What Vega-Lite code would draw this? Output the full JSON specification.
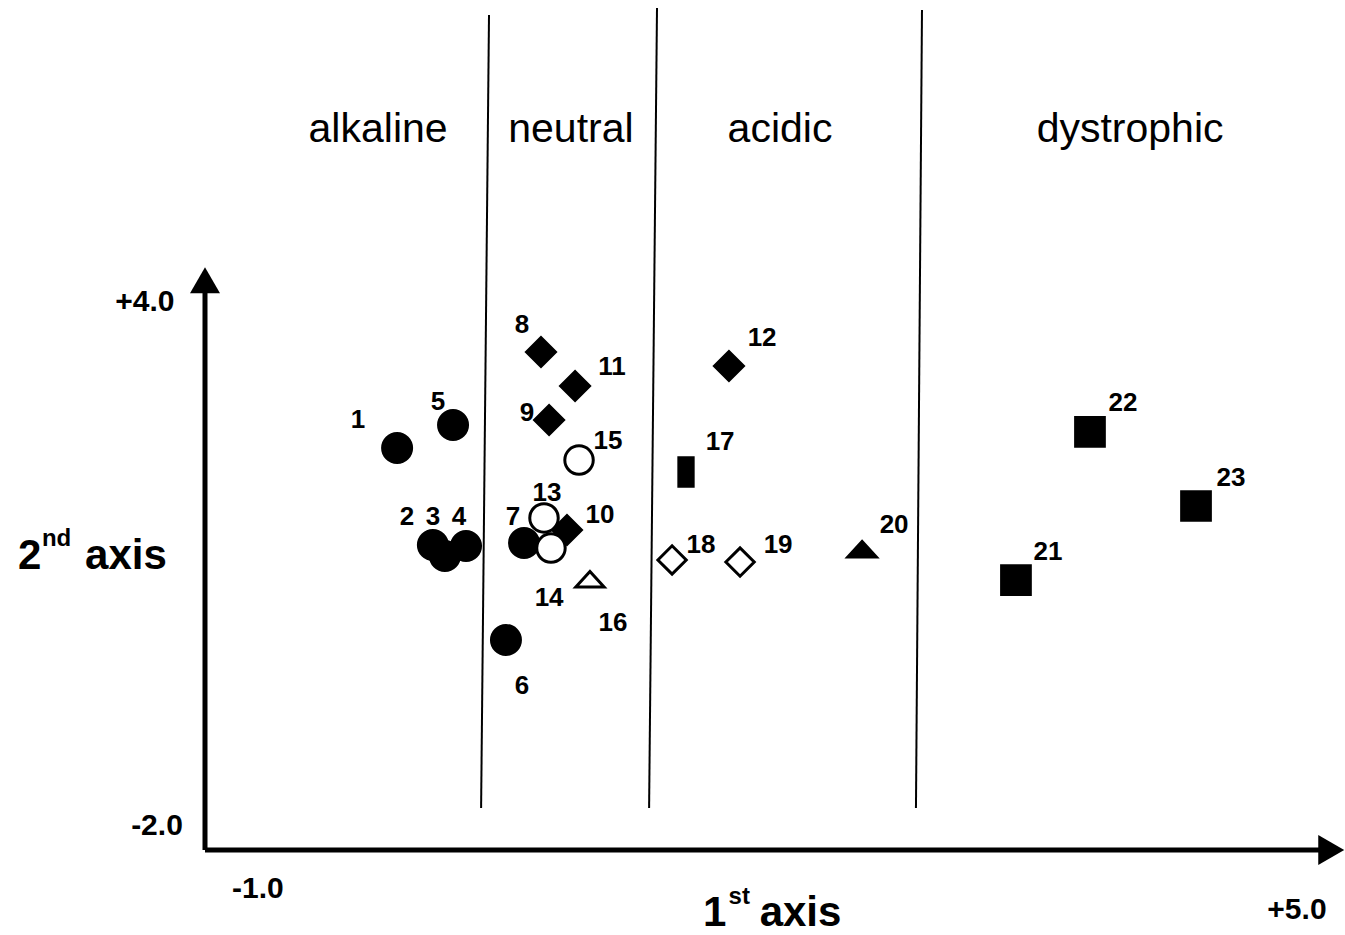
{
  "$schema": "https://vega.github.io/schema/vega-lite/v6.json",
  "width": 1345,
  "height": 935,
  "padding": 0,
  "autosize": {"type": "fit", "contains": "padding"},
  "background": "white",
  "config": {"view": {"stroke": null}},
  "datasets": {
    "pts": [
      {"id": "1", "x": 0.02, "y": 2.269, "lx": -0.188, "ly": 2.566, "kind": "fc"},
      {"id": "5", "x": 0.317, "y": 2.513, "lx": 0.237, "ly": 2.757, "kind": "fc"},
      {"id": "2", "x": 0.21, "y": 1.239, "lx": 0.073, "ly": 1.536, "kind": "fc"},
      {"id": "3", "x": 0.274, "y": 1.122, "lx": 0.211, "ly": 1.536, "kind": "fc"},
      {"id": "4", "x": 0.386, "y": 1.228, "lx": 0.349, "ly": 1.536, "kind": "fc"},
      {"id": "6", "x": 0.598, "y": 0.23, "lx": 0.683, "ly": -0.258, "kind": "fc"},
      {"id": "7", "x": 0.694, "y": 1.26, "lx": 0.635, "ly": 1.536, "kind": "fc"},
      {"id": "8", "x": 0.784, "y": 3.288, "lx": 0.683, "ly": 3.575, "kind": "fd"},
      {"id": "11", "x": 0.965, "y": 2.927, "lx": 1.161, "ly": 3.129, "kind": "fd"},
      {"id": "9", "x": 0.827, "y": 2.566, "lx": 0.71, "ly": 2.641, "kind": "fd"},
      {"id": "10", "x": 0.922, "y": 1.398, "lx": 1.097, "ly": 1.557, "kind": "sd"},
      {"id": "12", "x": 1.782, "y": 3.14, "lx": 1.958, "ly": 3.437, "kind": "fd"},
      {"id": "17", "x": 1.554, "y": 2.014, "lx": 1.735, "ly": 2.333, "kind": "fb"},
      {"id": "20", "x": 2.489, "y": 1.186, "lx": 2.659, "ly": 1.451, "kind": "ft"},
      {"id": "21", "x": 3.306, "y": 0.867, "lx": 3.476, "ly": 1.164, "kind": "fs"},
      {"id": "22", "x": 3.699, "y": 2.439, "lx": 3.874, "ly": 2.747, "kind": "fs"},
      {"id": "23", "x": 4.262, "y": 1.653, "lx": 4.448, "ly": 1.95, "kind": "fs"},
      {"id": "15", "x": 0.986, "y": 2.141, "lx": 1.14, "ly": 2.343, "kind": "oc"},
      {"id": "13", "x": 0.8, "y": 1.526, "lx": 0.816, "ly": 1.791, "kind": "oc"},
      {"id": "14", "x": 0.837, "y": 1.207, "lx": 0.827, "ly": 0.676, "kind": "oc"},
      {"id": "16", "x": 1.044, "y": 0.867, "lx": 1.166, "ly": 0.411, "kind": "ot"},
      {"id": "18", "x": 1.48, "y": 1.08, "lx": 1.634, "ly": 1.239, "kind": "od"},
      {"id": "19", "x": 1.841, "y": 1.058, "lx": 2.043, "ly": 1.239, "kind": "od"}
    ],
    "dividers": [
      {"xt": 0.508, "xb": 0.466, "yt": 6.867, "yb": -1.554},
      {"xt": 1.4, "xb": 1.358, "yt": 6.941, "yb": -1.554},
      {"xt": 2.807, "xb": 2.775, "yt": 6.92, "yb": -1.554}
    ],
    "zones": [
      {"name": "alkaline", "x": -0.081, "y": 5.646},
      {"name": "neutral", "x": 0.943, "y": 5.646},
      {"name": "acidic", "x": 2.053, "y": 5.646},
      {"name": "dystrophic", "x": 3.912, "y": 5.646}
    ],
    "axislines": [
      {"x1": -1, "y1": -2, "x2": -1, "y2": 4.03},
      {"x1": -1, "y1": -2, "x2": 4.97, "y2": -2}
    ],
    "arrows": [
      {"x": -1, "y": 4.05, "dir": "up"},
      {"x": 4.98, "y": -2, "dir": "right"}
    ],
    "ticks": [
      {"t": "+4.0", "x": -1.319, "y": 3.819},
      {"t": "-2.0", "x": -1.255, "y": -1.745},
      {"t": "-1.0", "x": -0.719, "y": -2.414},
      {"t": "+5.0", "x": 4.798, "y": -2.637}
    ],
    "titles": [
      {"t": "2", "x": -1.993, "y": 1.122, "sup": false},
      {"t": "nd", "x": -1.866, "y": 1.3, "sup": true},
      {"t": "axis", "x": -1.637, "y": 1.122, "sup": false},
      {"t": "1", "x": 1.644, "y": -2.669, "sup": false},
      {"t": "st", "x": 1.78, "y": -2.499, "sup": true},
      {"t": "axis", "x": 1.945, "y": -2.669, "sup": false}
    ]
  },
  "encoding": {},
  "resolve": {"scale": {"shape": "independent", "size": "independent", "fill": "independent"}},
  "layer": [
    {
      "data": {"name": "dividers"},
      "mark": {"type": "rule", "color": "black", "strokeWidth": 2},
      "encoding": {
        "x": {"field": "xt", "type": "quantitative", "scale": {"domain": [-2.0885, 5.0531], "nice": false, "zero": false}, "axis": null},
        "y": {"field": "yt", "type": "quantitative", "scale": {"domain": [-2.9026, 7.0263], "nice": false, "zero": false}, "axis": null},
        "x2": {"field": "xb"},
        "y2": {"field": "yb"}
      }
    },
    {
      "data": {"name": "axislines"},
      "mark": {"type": "rule", "color": "black", "strokeWidth": 5},
      "encoding": {
        "x": {"field": "x1", "type": "quantitative"},
        "y": {"field": "y1", "type": "quantitative"},
        "x2": {"field": "x2"},
        "y2": {"field": "y2"}
      }
    },
    {
      "data": {"name": "arrows"},
      "mark": {"type": "point", "filled": true, "color": "black", "size": 900, "opacity": 1},
      "encoding": {
        "x": {"field": "x", "type": "quantitative"},
        "y": {"field": "y", "type": "quantitative"},
        "shape": {"field": "dir", "type": "nominal", "scale": {"domain": ["up", "right"], "range": ["triangle-up", "triangle-right"]}, "legend": null}
      }
    },
    {
      "data": {"name": "zones"},
      "mark": {"type": "text", "font": "Liberation Sans", "fontSize": 41, "align": "center", "baseline": "middle", "color": "black"},
      "encoding": {
        "x": {"field": "x", "type": "quantitative"},
        "y": {"field": "y", "type": "quantitative"},
        "text": {"field": "name"}
      }
    },
    {
      "data": {"name": "ticks"},
      "mark": {"type": "text", "font": "Liberation Sans", "fontSize": 30, "fontWeight": "bold", "align": "center", "baseline": "middle", "color": "black"},
      "encoding": {
        "x": {"field": "x", "type": "quantitative"},
        "y": {"field": "y", "type": "quantitative"},
        "text": {"field": "t"}
      }
    },
    {
      "data": {"name": "titles"},
      "transform": [{"filter": "!datum.sup"}],
      "mark": {"type": "text", "font": "Liberation Sans", "fontSize": 42, "fontWeight": "bold", "align": "left", "baseline": "middle", "color": "black"},
      "encoding": {
        "x": {"field": "x", "type": "quantitative"},
        "y": {"field": "y", "type": "quantitative"},
        "text": {"field": "t"}
      }
    },
    {
      "data": {"name": "titles"},
      "transform": [{"filter": "datum.sup"}],
      "mark": {"type": "text", "font": "Liberation Sans", "fontSize": 24, "fontWeight": "bold", "align": "left", "baseline": "middle", "color": "black"},
      "encoding": {
        "x": {"field": "x", "type": "quantitative"},
        "y": {"field": "y", "type": "quantitative"},
        "text": {"field": "t"}
      }
    },
    {
      "data": {"name": "pts"},
      "mark": {"type": "point", "filled": true, "stroke": "black", "strokeWidth": 3, "opacity": 1},
      "encoding": {
        "x": {"field": "x", "type": "quantitative"},
        "y": {"field": "y", "type": "quantitative"},
        "shape": {"field": "kind", "type": "nominal", "legend": null, "scale": {
          "domain": ["fc", "fd", "sd", "fs", "fb", "ft", "oc", "od", "ot"],
          "range": ["circle", "diamond", "diamond", "square", "M-0.5,-1L0.5,-1L0.5,1L-0.5,1Z", "M-1,0.5L1,0.5L0,-0.6Z", "circle", "diamond", "M-1,0.5L1,0.5L0,-0.6Z"]}},
        "size": {"field": "kind", "type": "ordinal", "legend": null, "scale": {
          "domain": ["fc", "fd", "sd", "fs", "fb", "ft", "oc", "od", "ot"],
          "range": [841, 800, 350, 784, 784, 729, 729, 700, 400]}},
        "fill": {"field": "kind", "type": "nominal", "legend": null, "scale": {
          "domain": ["fc", "fd", "sd", "fs", "fb", "ft", "oc", "od", "ot"],
          "range": ["black", "black", "black", "black", "black", "black", "white", "white", "white"]}}
      }
    },
    {
      "data": {"name": "pts"},
      "mark": {"type": "text", "font": "Liberation Sans", "fontSize": 26, "fontWeight": "bold", "align": "center", "baseline": "middle", "color": "black"},
      "encoding": {
        "x": {"field": "lx", "type": "quantitative"},
        "y": {"field": "ly", "type": "quantitative"},
        "text": {"field": "id"}
      }
    }
  ]
}
